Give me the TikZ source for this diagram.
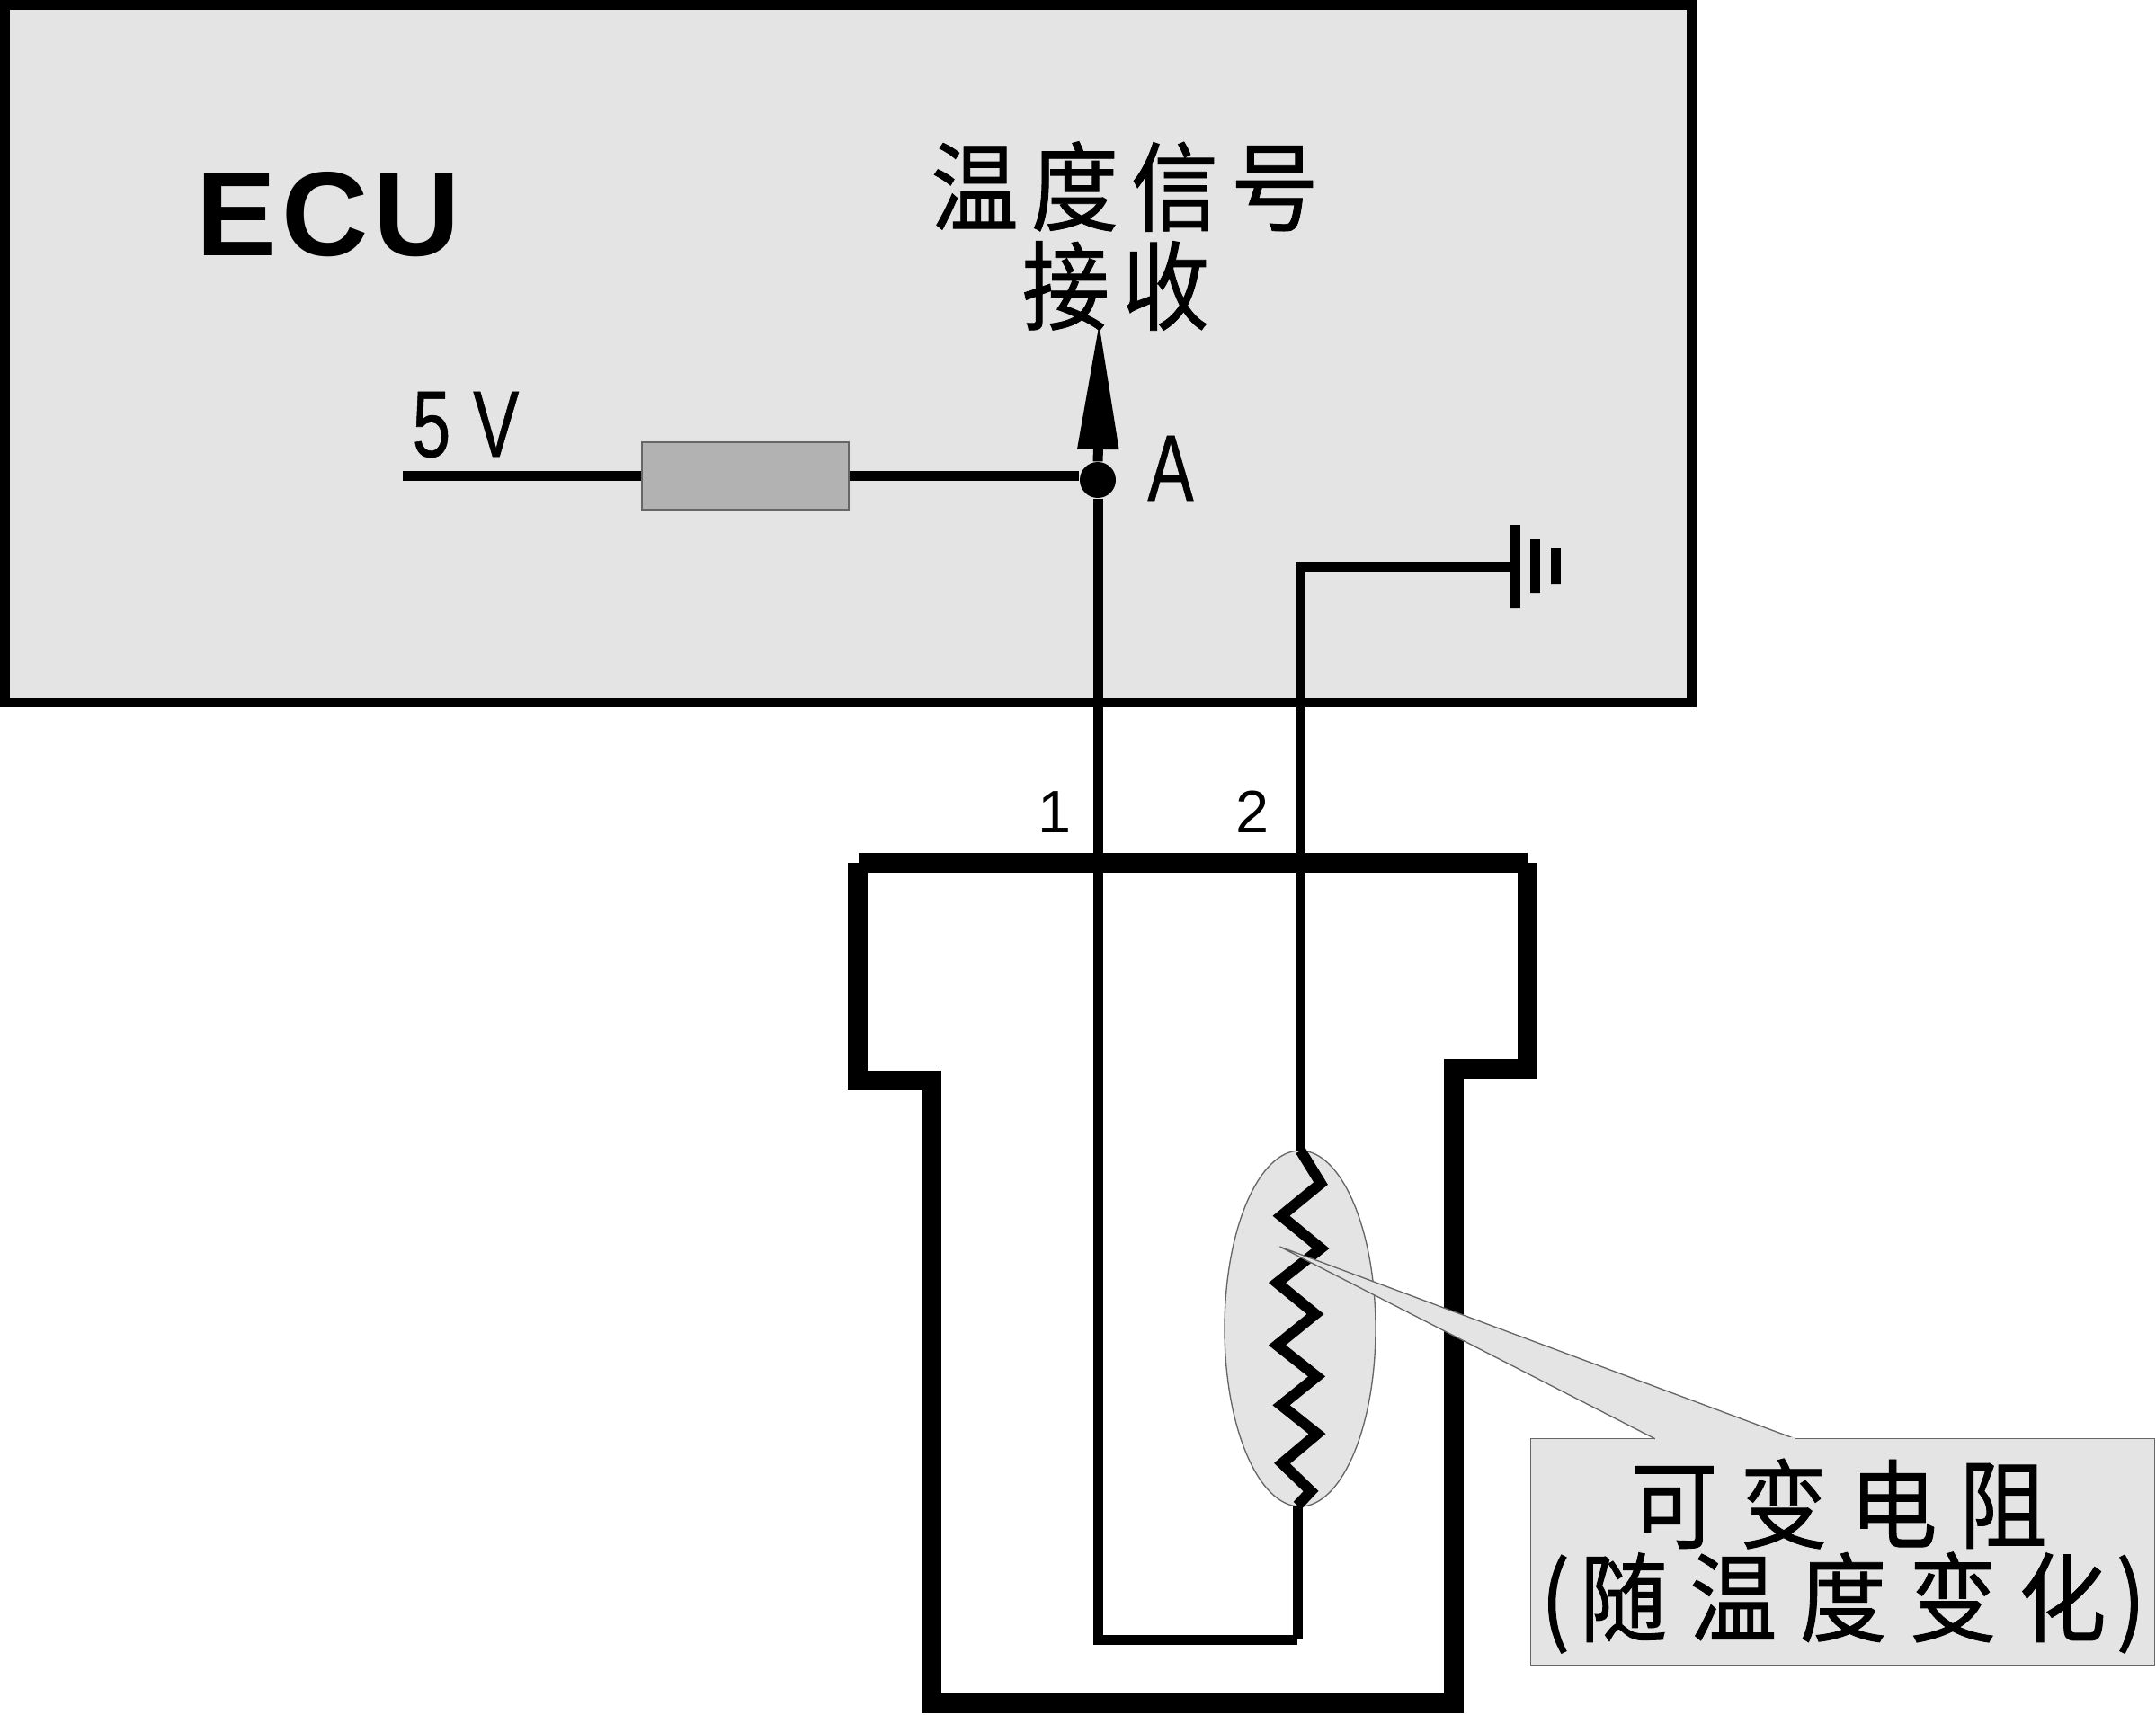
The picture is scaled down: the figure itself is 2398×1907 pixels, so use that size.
\documentclass[tikz,border=0pt]{standalone}
\usepackage{fontspec}
\usetikzlibrary{arrows.meta, shapes.geometric, positioning}
\setmainfont{Liberation Sans}
\newfontfamily\narrowfont[FakeStretch=0.73,FakeBold=0.5]{Liberation Sans}
\newfontfamily\cjktop[FakeStretch=0.9,LetterSpace=13,FakeBold=0.8]{Noto Sans CJK SC}
\newfontfamily\cjkbox[FakeStretch=0.9,LetterSpace=23,FakeBold=0.8]{Noto Sans CJK SC}
\definecolor{panel}{HTML}{E4E4E4}
\definecolor{fusegray}{HTML}{B2B2B2}
\definecolor{edgegray}{HTML}{666666}

\begin{document}
\begin{tikzpicture}[x=0.3pt,y=-0.3pt,>=stealth,
		wire/.style={draw=black,line width=3.3pt,miter limit=20},
		housing/.style={draw=black,line width=6.6pt},
		thin edge/.style={draw=edgegray,line width=0.4pt,fill=panel}]
	\tikzstyle{bigtext} = [inner sep=0pt,font=\cjktop\fontsize{32.4pt}{36pt}\selectfont]
	\tikzstyle{boxtext} = [inner sep=0pt,font=\cjkbox\fontsize{32.4pt}{36pt}\selectfont]
	\tikzstyle{tall} = [inner sep=0pt,font=\narrowfont\fontsize{31.5pt}{36pt}\selectfont]
	\useasboundingbox (0,0) rectangle (2398,1907);

	% control unit
	\node[draw=black,line width=3.3pt,fill=panel,minimum width=562.8pt,minimum height=232.8pt,inner sep=0pt,outer sep=0pt] (ecubox) at (943.5,393.5) {};
	\node[inner sep=0pt,font=\bfseries\fontsize{40pt}{44pt}\selectfont] (ecu) at (365,238.5) {E\kern1.8pt C\kern1.8pt U};
	\node[bigtext] (signal) at (1251,207.5) {温度信号};
	\node[bigtext] (receive) at (1241,318) {接收};
	\node[tall] (volt) at (518,472.5) {5\kern7.5pt V};
	\node[tall] (pointa) at (1302,521) {A};

	% sensor body
	\draw[housing] (954,960) -- (954,1202) -- (1036,1202) -- (1036,1895) -- (1616.5,1895) -- (1616.5,1189) -- (1698.5,1189) -- (1698.5,960);
	\draw[housing] (955,960.3) -- (1699,960.3);
	\node[inner sep=0pt,font=\fontsize{20pt}{24pt}\selectfont] (pinone) at (1173,903.5) {1};
	\node[inner sep=0pt,font=\fontsize{20pt}{24pt}\selectfont] (pintwo) at (1393,903.5) {2};

	% thermistor
	\node[ellipse,thin edge,minimum width=50.4pt,minimum height=118.8pt,inner sep=0pt] (thermistor) at (1446,1478) {};

	% signal side
	\coordinate (vin) at (448,529.5);
	\coordinate (tip) at (1222.5,358);
	\coordinate (botleft) at (1221,1824);
	\coordinate (botright) at (1443,1824);
	\coordinate (zigend) at (1443,1675);
	\coordinate (gndbend) at (1446.5,630);
	\coordinate (zigstart) at (1446.5,1280);
	\node[draw=edgegray,line width=0.4pt,fill=fusegray,minimum width=69pt,minimum height=22.5pt,inner sep=0pt] (fuse) at (829,529.5) {};
	\node[circle,fill=black,inner sep=0pt,minimum size=12pt] (junction) at (1221,534) {};
	\node[inner sep=0pt,minimum height=27.6pt,minimum width=0pt,draw=black,line width=3.3pt] (gnd) at (1685,630) {};
	\node[inner sep=0pt,minimum height=18pt,minimum width=0pt,draw=black,line width=3.3pt,right=22pt*0.3 of gnd.center,anchor=center] (gndb) {};
	\node[inner sep=0pt,minimum height=12pt,minimum width=0pt,draw=black,line width=3.3pt,right=45pt*0.3 of gnd.center,anchor=center] (gndc) {};

	\draw[wire] (vin) -- (fuse);
	\draw[wire] (fuse) -- (junction.west |- fuse);
	\draw[wire,-{Triangle[length=42.6pt,width=13pt]}] (junction) -- (tip);
	\draw[wire] (junction) -- (botleft) -- (botright);
	\draw[wire] (botright) -- (zigend);
	\draw[wire] (gnd) -- (gndbend) -- (zigstart);
	\draw[wire,line width=3.6pt,line join=miter] (zigstart) -- (1469,1316.6) -- (1425,1352.7) -- (1469,1388.9) -- (1420.5,1427.2) -- (1463,1462) -- (1420.5,1496.5) -- (1464.5,1531.4) -- (1425,1563.3) -- (1465,1595.2) -- (1426,1628) -- (1458,1659) -- (zigend);

	% callout
	\node[thin edge,minimum width=208.2pt,minimum height=75.5pt,inner sep=0pt] (callout) at (2049.7,1726.6) {};
	\coordinate (pointer) at (1423.5,1387);
	\coordinate (basea) at (1841,1600.8);
	\coordinate (baseb) at (1996.8,1600.8);
	\fill[panel] (basea) -- (pointer) -- (baseb) -- cycle;
	\draw[edgegray,line width=0.4pt] (basea) -- (pointer) -- (baseb);
	\draw[panel,line width=0.8pt] (basea) -- (baseb);
	\node[boxtext] (resname) at (2045,1673) {可变电阻};
	\node[boxtext] (resnote) at (2050,1783) {(\kern3.3pt 随温度变化\kern3.3pt )};
\end{tikzpicture}
\end{document}
